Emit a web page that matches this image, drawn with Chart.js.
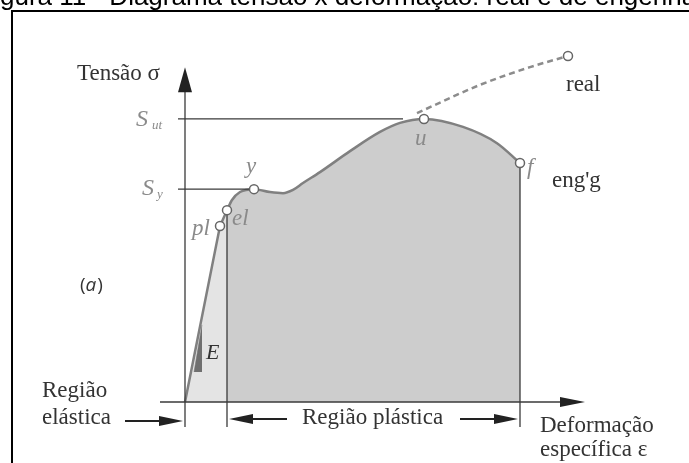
<!DOCTYPE html>
<html>
<head>
<meta charset="utf-8">
<script src="https://cdn.jsdelivr.net/npm/chart.js@4.4.1/dist/chart.umd.min.js"></script>
<style>
html,body{margin:0;padding:0;background:#fff;}
canvas{display:block;}
</style>
</head>
<body>
<canvas id="c" width="689" height="463"></canvas>
<script>
// ---- data (strain / stress in arbitrary diagram units) ----
const titleText = "Figura 11 - Diagrama tensão x deformação: real e de engenharia";
const strainElastic = [0, 8.75, 10.5];
const stressElastic = [0, 48.6, 53.0];
const strainPlastic = [10.5, 11.75, 13.75, 17.25, 21.25, 24.5, 27, 29.5, 33.75, 41.25, 48.75, 53.75, 59.75, 69.5, 78, 83.75];
const stressPlastic = [53.0, 55.8, 58.0, 58.8, 58.0, 57.7, 58.6, 60.5, 63.5, 69.3, 74.6, 77.1, 78.2, 76.0, 71.5, 66.0];
const strainTrue = [58, 73.75, 86.25, 95.75];
const stressTrue = [79.8, 87.6, 92.5, 95.6];
const markerNames = ["pl", "el", "y", "u", "f", "real"];
const markerStrain = [8.75, 10.5, 17.25, 59.75, 83.75, 95.75];
const markerStress = [48.6, 53.0, 58.8, 78.2, 66.0, 95.6];
const Sut = 78.2;
const Sy = 58.8;
const strainAxisEnd = 100;
const stressAxisEnd = 92.5;
const belowAxis = -6.9;
const leftOfAxis = -6.25;
const tickStart = -1.75;
const sutLineEnd = 54.5;
const slopeStrain = [2.25, 4.25];
const slopeStress = [8.3, 21.3];

const pts = (xs, ys) => xs.map((x, i) => ({x: x, y: ys[i]}));
const LINE = '#3a3a3a';

const decor = {
  id: 'decor',
  beforeDraw(chart) {
    const ctx = chart.ctx;
    ctx.save();
    ctx.fillStyle = '#fff';
    ctx.fillRect(0, 0, chart.width, chart.height);
    ctx.restore();
  },
  afterDraw(chart) {
    const ctx = chart.ctx;
    const xs = chart.scales.x, ys = chart.scales.y;
    const px = v => xs.getPixelForValue(v), py = v => ys.getPixelForValue(v);
    ctx.save();
    // frame
    ctx.strokeStyle = '#000';
    ctx.lineWidth = 2;
    ctx.beginPath();
    ctx.moveTo(12, chart.height + 2);
    ctx.lineTo(12, 11);
    ctx.lineTo(chart.width + 2, 11);
    ctx.stroke();
    // title (clipped at top)
    ctx.fillStyle = '#000';
    ctx.font = '26px "Liberation Sans", Arial, sans-serif';
    ctx.textBaseline = 'alphabetic';
    const off = ctx.measureText('Fi').width;
    ctx.fillText(titleText, -off, 5);

    // arrow helper
    function head(tx, ty, dx, dy, len, half) {
      const bx = tx - dx * len, by = ty - dy * len;
      ctx.beginPath();
      ctx.moveTo(tx, ty);
      ctx.lineTo(bx - dy * half, by + dx * half);
      ctx.lineTo(bx + dy * half, by - dx * half);
      ctx.closePath();
      ctx.fill();
    }
    ctx.fillStyle = '#222';
    head(px(0), py(stressAxisEnd), 0, -1, 25, 7);
    head(px(strainAxisEnd), py(0), 1, 0, 25, 5);

    // region arrows
    const ay1 = py(0) + 19, ay2 = py(0) + 17;
    ctx.strokeStyle = '#222';
    ctx.lineWidth = 2;
    ctx.beginPath();
    ctx.moveTo(125, ay1); ctx.lineTo(px(0) - 15, ay1);
    ctx.moveTo(px(strainElastic[2]) + 15, ay2); ctx.lineTo(287, ay2);
    ctx.moveTo(460, ay2); ctx.lineTo(px(markerStrain[4]) - 15, ay2);
    ctx.stroke();
    head(px(0) - 2, ay1, 1, 0, 24, 5);
    head(px(strainElastic[2]) + 2, ay2, -1, 0, 24, 5);
    head(px(markerStrain[4]) - 2, ay2, 1, 0, 24, 5);

    // black serif texts
    const serif = '"Liberation Serif", "Times New Roman", serif';
    ctx.fillStyle = '#333';
    ctx.font = '23px ' + serif;
    ctx.fillText('Tensão σ', 77, 80);
    ctx.fillText('Região', 42, 397);
    ctx.fillText('elástica', 42, 424);
    ctx.fillText('Região plástica', 302, 424);
    ctx.fillText('Deformação', 540, 432);
    ctx.fillText('específica ε', 540, 456);
    ctx.fillText('real', 566, 91);
    ctx.fillText("eng'g", 552, 187);
    ctx.font = 'italic 22px ' + serif;
    ctx.fillText('E', 206, 359);
    // (a)
    ctx.font = '19px "Open Sans", sans-serif';
    ctx.fillText('(', 80, 291);
    let w = ctx.measureText('(').width;
    ctx.font = 'italic 19px "Open Sans", sans-serif';
    ctx.fillText('a', 80 + w, 291);
    w += ctx.measureText('a').width;
    ctx.font = '19px "Open Sans", sans-serif';
    ctx.fillText(')', 80 + w + 1, 291);

    // grey italic labels
    ctx.fillStyle = '#8a8a8a';
    ctx.font = 'italic 24px ' + serif;
    ctx.fillText('S', 136, 126);
    ctx.fillText('S', 142, 195);
    ctx.font = 'italic 13px ' + serif;
    ctx.fillText('ut', 152, 129);
    ctx.fillText('y', 157, 198);
    ctx.font = 'italic 23px ' + serif;
    ctx.fillText('y', 246, 173);
    ctx.fillText('el', 232, 225);
    ctx.fillText('pl', 192, 235);
    ctx.fillText('u', 415, 145);
    ctx.fillText('f', 527, 174);
    ctx.restore();
  }
};

new Chart(document.getElementById('c'), {
  type: 'line',
  data: {
    datasets: [
      { // markers
        data: pts(markerStrain, markerStress), showLine: false,
        pointRadius: 4.5, pointBackgroundColor: '#fff', pointBorderColor: '#666',
        pointBorderWidth: 1.5, order: 0, clip: false
      },
      { // true (real) curve
        data: pts(strainTrue, stressTrue), borderColor: '#8c8c8c', borderWidth: 2.5,
        borderDash: [6, 4], cubicInterpolationMode: 'monotone', pointRadius: 0, fill: false,
        order: 1, clip: false
      },
      { // slope triangle E
        data: pts(slopeStrain, slopeStress), borderColor: '#6f6f6f', borderWidth: 0.5,
        backgroundColor: '#6f6f6f', fill: {value: slopeStress[0]}, pointRadius: 0,
        order: 2, clip: false
      },
      { // y axis
        data: pts([0, 0], [belowAxis, stressAxisEnd - 5]), borderColor: LINE, borderWidth: 1.3,
        pointRadius: 0, fill: false, order: 3, clip: false
      },
      { // x axis
        data: pts([leftOfAxis, strainAxisEnd - 5], [0, 0]), borderColor: LINE, borderWidth: 1.3,
        pointRadius: 0, fill: false, order: 3, clip: false
      },
      { // S_ut line
        data: pts([tickStart, sutLineEnd], [Sut, Sut]), borderColor: LINE, borderWidth: 1.3,
        pointRadius: 0, fill: false, order: 3, clip: false
      },
      { // S_y line
        data: pts([tickStart, markerStrain[2]], [Sy, Sy]), borderColor: LINE, borderWidth: 1.3,
        pointRadius: 0, fill: false, order: 3, clip: false
      },
      { // el vertical
        data: pts([strainElastic[2], strainElastic[2]], [belowAxis, stressElastic[2]]), borderColor: LINE,
        borderWidth: 1.3, pointRadius: 0, fill: false, order: 3, clip: false
      },
      { // f vertical
        data: pts([markerStrain[4], markerStrain[4]], [belowAxis, markerStress[4]]), borderColor: LINE,
        borderWidth: 1.3, pointRadius: 0, fill: false, order: 3, clip: false
      },
      { // plastic region (engineering curve)
        data: pts(strainPlastic, stressPlastic), borderColor: '#808080', borderWidth: 2.5,
        backgroundColor: '#cdcdcd', fill: 'origin', cubicInterpolationMode: 'monotone',
        pointRadius: 0, order: 5, clip: false
      },
      { // elastic region
        data: pts(strainElastic, stressElastic), borderColor: '#808080', borderWidth: 2.5,
        backgroundColor: '#e4e4e4', fill: 'origin', pointRadius: 0, order: 6, clip: false
      }
    ]
  },
  options: {
    responsive: false,
    animation: false,
    layout: {padding: {left: 185, right: 104, top: 40, bottom: 61}},
    plugins: {legend: {display: false}, tooltip: {enabled: false}, title: {display: false}},
    scales: {
      x: {type: 'linear', min: 0, max: 100, display: false},
      y: {type: 'linear', min: 0, max: 100, display: false}
    }
  },
  plugins: [decor]
});
</script>
</body>
</html>
